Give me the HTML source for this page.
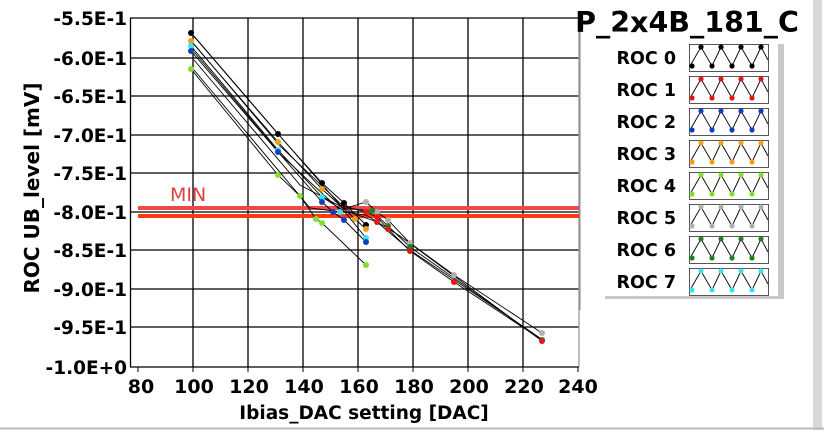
<!DOCTYPE html>
<html><head><style>
body{margin:0;background:#fff;}
svg text{font-family:"DejaVu Sans","Liberation Sans",sans-serif;}
</style></head><body>
<svg width="824" height="430" viewBox="0 0 824 430" xmlns="http://www.w3.org/2000/svg">
<rect width="824" height="430" fill="#fff"/>
<rect x="813" y="0" width="9" height="430" fill="#d8d8d8"/>
<line x1="0" y1="428.5" x2="824" y2="428.5" stroke="#bbb" stroke-width="2"/>
<g stroke="#000" stroke-width="1.3">
<line x1="193" y1="18" x2="193" y2="367"/><line x1="248" y1="18" x2="248" y2="367"/>
<line x1="303" y1="18" x2="303" y2="367"/><line x1="358" y1="18" x2="358" y2="367"/>
<line x1="413" y1="18" x2="413" y2="367"/><line x1="468" y1="18" x2="468" y2="367"/>
<line x1="523" y1="18" x2="523" y2="367"/>
<line x1="130" y1="58" x2="579" y2="58"/><line x1="130" y1="96" x2="579" y2="96"/>
<line x1="130" y1="135" x2="579" y2="135"/><line x1="130" y1="173" x2="579" y2="173"/>
<line x1="130" y1="212" x2="579" y2="212"/><line x1="130" y1="250" x2="579" y2="250"/>
<line x1="130" y1="289" x2="579" y2="289"/><line x1="130" y1="327" x2="579" y2="327"/>
<line x1="130" y1="18" x2="579" y2="18"/>
<line x1="130.5" y1="18" x2="130.5" y2="367"/>
<line x1="130" y1="367" x2="579" y2="367"/>
</g>
<line x1="579" y1="18" x2="579" y2="367" stroke="#999" stroke-width="1.3"/>
<g stroke="#000" stroke-width="1">
<line x1="138" y1="367" x2="138" y2="372"/><line x1="193" y1="367" x2="193" y2="372"/><line x1="248" y1="367" x2="248" y2="372"/><line x1="303" y1="367" x2="303" y2="372"/><line x1="358" y1="367" x2="358" y2="372"/><line x1="413" y1="367" x2="413" y2="372"/><line x1="468" y1="367" x2="468" y2="372"/><line x1="523" y1="367" x2="523" y2="372"/><line x1="578" y1="367" x2="578" y2="372"/>
</g>
<line x1="138" y1="208" x2="579" y2="208" stroke="#f04848" stroke-width="4"/>
<line x1="138" y1="216" x2="579" y2="216" stroke="#ff3a10" stroke-width="4"/>
<text x="170" y="201" font-size="19" fill="#e04040" style="font-family:'DejaVu Sans',sans-serif">MIN</text>
<g fill="none" stroke="#000" stroke-width="0.9">
<polyline points="191,33 278,134 322,183 344,203 366,225"/>
<polyline points="191,41 278,142 322,189 355,219 366,229"/>
<polyline points="191,46 278,150 322,197 344,211 366,238"/>
<polyline points="191,51 278,152 322,202 333,212 344,220 366,242"/>
<polyline points="191,69 278,175 300,196 316,219 322,223 366,265"/>
<polyline points="194,36 280,136 340,205 366,212 377,217 388,229 410,251 454,282 542,340"/>
<polyline points="194,44 280,146 345,208 372,211 388,226 410,247 542,340"/>
<polyline points="194,52 282,156 340,210 366,202 377,212 388,220 410,243 454,275 542,333"/>
<polyline points="194,60 300,185 355,214 377,222 410,250 540,338"/>
<polyline points="194,70 310,208 366,215 400,236 542,341"/>
</g>
<g>
<g fill="#000"><circle cx="191" cy="33" r="3"/><circle cx="278" cy="134" r="3"/><circle cx="322" cy="183" r="3"/><circle cx="344" cy="203" r="3"/><circle cx="366" cy="225" r="3"/></g>
<g fill="#f0a020"><circle cx="191" cy="41" r="3"/><circle cx="278" cy="142" r="3"/><circle cx="322" cy="189" r="3"/><circle cx="355" cy="219" r="3"/><circle cx="366" cy="229" r="3"/></g>
<g fill="#40e0f0"><circle cx="191" cy="46" r="3"/><circle cx="278" cy="150" r="3"/><circle cx="322" cy="197" r="3"/><circle cx="340" cy="212" r="3"/><circle cx="366" cy="238" r="3"/></g>
<g fill="#1040c0"><circle cx="191" cy="51" r="3"/><circle cx="278" cy="152" r="3"/><circle cx="322" cy="202" r="3"/><circle cx="333" cy="212" r="3"/><circle cx="344" cy="220" r="3"/><circle cx="366" cy="242" r="3"/></g>
<g fill="#80e030"><circle cx="191" cy="69" r="3"/><circle cx="278" cy="175" r="3"/><circle cx="300" cy="196" r="3"/><circle cx="316" cy="219" r="3"/><circle cx="322" cy="223" r="3"/><circle cx="366" cy="265" r="3"/></g>
<g fill="#b0b0b0"><circle cx="366" cy="202" r="3"/><circle cx="377" cy="212" r="3"/><circle cx="388" cy="220" r="3"/><circle cx="410" cy="243" r="3"/><circle cx="454" cy="275" r="3"/><circle cx="542" cy="333" r="3"/></g>
<g fill="#208020"><circle cx="372" cy="211" r="3"/><circle cx="388" cy="226" r="3"/><circle cx="410" cy="247" r="3"/><circle cx="542" cy="340" r="3"/></g>
<g fill="#e01818"><circle cx="366" cy="212" r="3"/><circle cx="377" cy="217" r="3"/><circle cx="377" cy="222" r="3"/><circle cx="388" cy="229" r="3"/><circle cx="410" cy="251" r="3"/><circle cx="454" cy="282" r="3"/><circle cx="542" cy="341" r="3"/></g>
</g>
<g font-size="18.5" font-weight="bold" text-anchor="end">
<text x="127" y="25">-5.5E-1</text><text x="127" y="65">-6.0E-1</text><text x="127" y="103">-6.5E-1</text>
<text x="127" y="142">-7.0E-1</text><text x="127" y="180">-7.5E-1</text><text x="127" y="219">-8.0E-1</text>
<text x="127" y="257">-8.5E-1</text><text x="127" y="296">-9.0E-1</text><text x="127" y="334">-9.5E-1</text>
<text x="127" y="374">-1.0E+0</text>
</g>
<g font-size="19" font-weight="bold" text-anchor="middle">
<text x="141" y="393">80</text><text x="194" y="393">100</text><text x="249" y="393">120</text><text x="304" y="393">140</text><text x="359" y="393">160</text><text x="414" y="393">180</text><text x="469" y="393">200</text><text x="524" y="393">220</text><text x="578" y="393">240</text>
</g>
<text x="364" y="419" font-size="18.5" font-weight="bold" text-anchor="middle">Ibias_DAC setting [DAC]</text>
<text transform="translate(39,188) rotate(-90)" font-size="20" font-weight="bold" text-anchor="middle">ROC UB_level [mV]</text>
<line x1="580" y1="30" x2="580" y2="310" stroke="#888" stroke-width="1"/>
<rect x="778" y="44" width="6" height="255" fill="#c8c8c8"/>
<rect x="605" y="296" width="179" height="3" fill="#c8c8c8"/>
<text x="687" y="32" font-size="28.5" font-weight="bold" text-anchor="middle">P_2x4B_181_C</text>
<g font-size="17.5" font-weight="bold" text-anchor="end">
<text x="676" y="64">ROC 0</text><text x="676" y="96">ROC 1</text><text x="676" y="128">ROC 2</text><text x="676" y="160">ROC 3</text>
<text x="676" y="192">ROC 4</text><text x="676" y="224">ROC 5</text><text x="676" y="256">ROC 6</text><text x="676" y="288">ROC 7</text>
</g>
<defs>
<g id="zz"><rect x="0.5" y="0.5" width="79" height="27" fill="#fff" stroke="#555"/>
<polyline points="1,22 12,3 23,22 32,3 43,22 52,3 63,22 72,3 79,16" fill="none" stroke="#000" stroke-width="0.9"/></g>
</defs>
<g transform="translate(689,44)"><use href="#zz"/><g fill="#000"><circle cx="12" cy="3" r="2.6"/><circle cx="32" cy="3" r="2.6"/><circle cx="52" cy="3" r="2.6"/><circle cx="72" cy="3" r="2.6"/><circle cx="3" cy="22" r="2.6"/><circle cx="23" cy="22" r="2.6"/><circle cx="43" cy="22" r="2.6"/><circle cx="63" cy="22" r="2.6"/></g></g>
<g transform="translate(689,76)"><use href="#zz"/><g fill="#e01818"><circle cx="12" cy="3" r="2.6"/><circle cx="32" cy="3" r="2.6"/><circle cx="52" cy="3" r="2.6"/><circle cx="72" cy="3" r="2.6"/><circle cx="3" cy="22" r="2.6"/><circle cx="23" cy="22" r="2.6"/><circle cx="43" cy="22" r="2.6"/><circle cx="63" cy="22" r="2.6"/></g></g>
<g transform="translate(689,108)"><use href="#zz"/><g fill="#1040c0"><circle cx="12" cy="3" r="2.6"/><circle cx="32" cy="3" r="2.6"/><circle cx="52" cy="3" r="2.6"/><circle cx="72" cy="3" r="2.6"/><circle cx="3" cy="22" r="2.6"/><circle cx="23" cy="22" r="2.6"/><circle cx="43" cy="22" r="2.6"/><circle cx="63" cy="22" r="2.6"/></g></g>
<g transform="translate(689,140)"><use href="#zz"/><g fill="#f0a020"><circle cx="12" cy="3" r="2.6"/><circle cx="32" cy="3" r="2.6"/><circle cx="52" cy="3" r="2.6"/><circle cx="72" cy="3" r="2.6"/><circle cx="3" cy="22" r="2.6"/><circle cx="23" cy="22" r="2.6"/><circle cx="43" cy="22" r="2.6"/><circle cx="63" cy="22" r="2.6"/></g></g>
<g transform="translate(689,172)"><use href="#zz"/><g fill="#80e030"><circle cx="12" cy="3" r="2.6"/><circle cx="32" cy="3" r="2.6"/><circle cx="52" cy="3" r="2.6"/><circle cx="72" cy="3" r="2.6"/><circle cx="3" cy="22" r="2.6"/><circle cx="23" cy="22" r="2.6"/><circle cx="43" cy="22" r="2.6"/><circle cx="63" cy="22" r="2.6"/></g></g>
<g transform="translate(689,204)"><use href="#zz"/><g fill="#b0b0b0"><circle cx="12" cy="3" r="2.6"/><circle cx="32" cy="3" r="2.6"/><circle cx="52" cy="3" r="2.6"/><circle cx="72" cy="3" r="2.6"/><circle cx="3" cy="22" r="2.6"/><circle cx="23" cy="22" r="2.6"/><circle cx="43" cy="22" r="2.6"/><circle cx="63" cy="22" r="2.6"/></g></g>
<g transform="translate(689,236)"><use href="#zz"/><g fill="#208020"><circle cx="12" cy="3" r="2.6"/><circle cx="32" cy="3" r="2.6"/><circle cx="52" cy="3" r="2.6"/><circle cx="72" cy="3" r="2.6"/><circle cx="3" cy="22" r="2.6"/><circle cx="23" cy="22" r="2.6"/><circle cx="43" cy="22" r="2.6"/><circle cx="63" cy="22" r="2.6"/></g></g>
<g transform="translate(689,268)"><use href="#zz"/><g fill="#40e0f0"><circle cx="12" cy="3" r="2.6"/><circle cx="32" cy="3" r="2.6"/><circle cx="52" cy="3" r="2.6"/><circle cx="72" cy="3" r="2.6"/><circle cx="3" cy="22" r="2.6"/><circle cx="23" cy="22" r="2.6"/><circle cx="43" cy="22" r="2.6"/><circle cx="63" cy="22" r="2.6"/></g></g>
</svg>
</body></html>
